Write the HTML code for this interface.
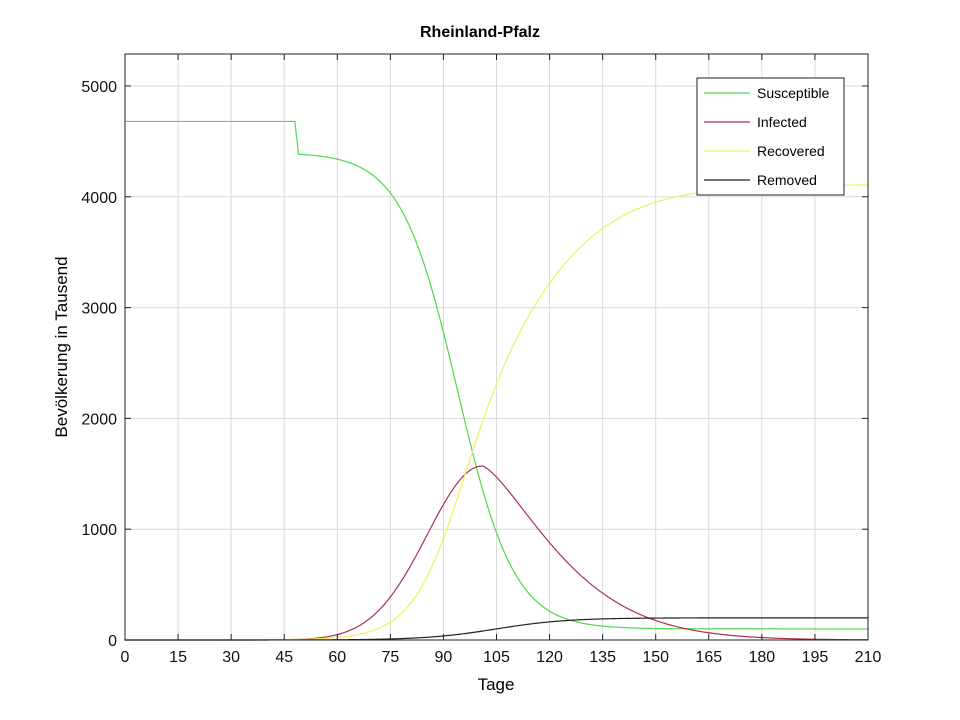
<!DOCTYPE html>
<html><head><meta charset="utf-8"><style>
body{margin:0;background:#fff;}
svg{display:block;font-family:"Liberation Sans",sans-serif;}
</style></head><body>
<svg id="s" width="960" height="720" xmlns="http://www.w3.org/2000/svg">
<rect width="960" height="720" fill="#fff"/>
<g id="grid" stroke="#d9d9d9" stroke-width="1"></g>
<g id="curves" fill="none" stroke-width="1.2"></g>
<rect x="125" y="54" width="743" height="586" fill="none" stroke="#222" stroke-width="1"/>
<g id="ticks" stroke="#222"></g>
<g id="labels" font-size="16" fill="#111"></g>
<text x="480" y="37" font-size="16" font-weight="bold" text-anchor="middle">Rheinland-Pfalz</text>
<text x="496" y="690" font-size="17" text-anchor="middle">Tage</text>
<text transform="translate(67,347) rotate(-90)" font-size="17" text-anchor="middle">Bevölkerung in Tausend</text>
<g>
<rect x="697" y="78" width="147" height="117" fill="#fff" stroke="#222"/>
<line x1="704" y1="93" x2="750" y2="93" stroke="#4cd94c" stroke-width="1.2"/>
<line x1="704" y1="122" x2="750" y2="122" stroke="#b03050" stroke-width="1.2"/>
<line x1="704" y1="151" x2="750" y2="151" stroke="#f0f060" stroke-width="1.2"/>
<line x1="704" y1="180" x2="750" y2="180" stroke="#222" stroke-width="1.2"/>
<text x="757" y="98" font-size="14">Susceptible</text>
<text x="757" y="127" font-size="14">Infected</text>
<text x="757" y="156" font-size="14">Recovered</text>
<text x="757" y="185" font-size="14">Removed</text>
</g>
</svg>
<script>
var ns="http://www.w3.org/2000/svg";
function X(t){return 125+t*743/210;}
function Y(v){return 640-v*0.1108;}
function el(p,tag,a,txt){var e=document.createElementNS(ns,tag);for(var k in a)e.setAttribute(k,a[k]);if(txt!=null)e.textContent=txt;document.getElementById(p).appendChild(e);}
for(var t=0;t<=210;t+=15){var x=X(t);
 if(t>0&&t<210)el("grid","line",{x1:x,y1:54,x2:x,y2:640});
 el("ticks","line",{x1:x,y1:640,x2:x,y2:634});el("ticks","line",{x1:x,y1:54,x2:x,y2:60});
 el("labels","text",{x:x,y:662,"text-anchor":"middle"},t);}
for(var v=0;v<=5000;v+=1000){var y=Y(v);
 if(v>0)el("grid","line",{x1:125,y1:y,x2:868,y2:y});
 el("ticks","line",{x1:125,y1:y,x2:131,y2:y});el("ticks","line",{x1:868,y1:y,x2:862,y2:y});
 el("labels","text",{x:117,y:y+6,"text-anchor":"end"},v);}
function S(t){if(t<48)return 4680;if(t<49)return 4680-(t-48)*280;return 100+4300/(1+Math.exp((t-94)/8));}
function I(t){if(t<101){return 1570*Math.exp(-Math.pow((t-101)/22,2));}return 1570*Math.exp(-Math.pow((t-101)/28,1.4));}
function R(t){var w=8+7/(1+Math.exp(-(t-102)/10));return 4110/(1+Math.exp(-(t-102)/w));}
function D(t){return 200/(1+Math.exp(-(t-105)/10));}
[[S,"#4cd94c"],[I,"#b03050"],[R,"#f0f060"],[D,"#222"]].forEach(function(c){
 var d="";for(var t=0;t<=210;t+=0.25){d+=(t?"L":"M")+X(t).toFixed(2)+" "+Y(c[0](t)).toFixed(2);}
 el("curves","path",{d:d,stroke:c[1]});});
</script>
</body></html>
